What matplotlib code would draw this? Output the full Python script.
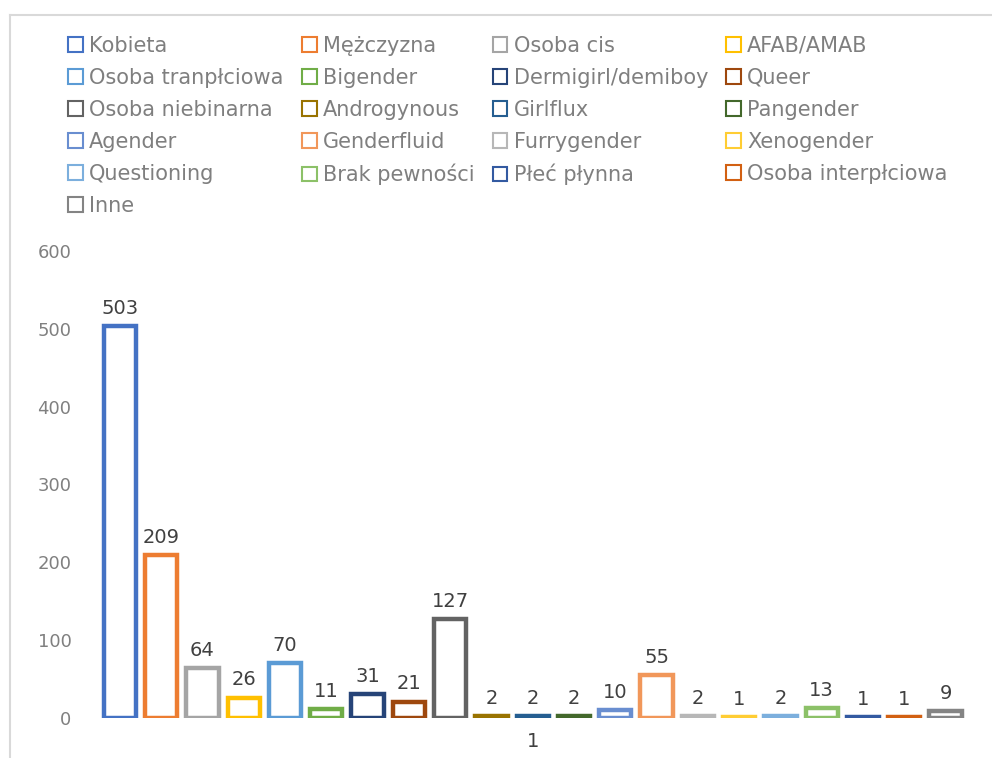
import matplotlib
matplotlib.use('Agg')
import matplotlib.pyplot as plt
from matplotlib.patches import Patch
from matplotlib.lines import Line2D
import numpy as np

categories = ["Kobieta", "Mężczyzna", "Osoba cis", "AFAB/AMAB",
              "Osoba tranpłciowa", "Bigender", "Dermigirl/demiboy", "Queer",
              "Osoba niebinarna", "Androgynous", "Girlflux", "Pangender",
              "Agender", "Genderfluid", "Furrygender", "Xenogender",
              "Questioning", "Brak pewności", "Płeć płynna", "Osoba interpłciowa",
              "Inne"]
values = [503, 209, 64, 26, 70, 11, 31, 21, 127, 2, 2, 2, 10, 55, 2, 1, 2, 13, 1, 1, 9]
colors = ["#4472C4", "#ED7D31", "#A5A5A5", "#FFC000", "#5B9BD5", "#70AD47",
          "#264478", "#9E480E", "#636363", "#997300", "#255E91", "#43682B",
          "#698ED0", "#F1975A", "#B7B7B7", "#FFCD33", "#7CAFDD", "#8CC168",
          "#335AA1", "#D26012", "#848484"]
# stray label drawn under the Girlflux bar in the original
stray_idx = 10
stray_text = "1"
yticks = [0, 100, 200, 300, 400, 500, 600]

plt.rcParams['font.family'] = ['DejaVu Sans']

fig = plt.figure(figsize=(9.92, 7.58), dpi=100)
ax = fig.add_axes([0.100, 0.0528, 0.874, 0.6161])

x = np.arange(len(values))
bars = ax.bar(x, values, width=0.78, color="white", edgecolor=colors, linewidth=3.2)

for xi, v in zip(x, values):
    ax.annotate(str(v), (xi, v), xytext=(0, 6), textcoords="offset points",
                ha="center", va="bottom", fontsize=14, color="#404040")
ax.annotate(stray_text, (stray_idx, 0), xytext=(0, -10), textcoords="offset points",
            ha="center", va="top", fontsize=14, color="#404040")

ax.set_xlim(-0.5, len(values) - 0.5)
ax.set_ylim(0, 600)
ax.set_yticks(yticks)
ax.set_xticks([])
ax.tick_params(axis="y", length=0, labelsize=13, labelcolor="#808080", pad=20)
for s in ax.spines.values():
    s.set_visible(False)

# legend filled row by row like the original (matplotlib fills column-major)
ncol = 4
handles = [Patch(facecolor="white", edgecolor=c, linewidth=1.5) for c in colors]
order = []
for c in range(ncol):
    order += list(range(c, len(categories), ncol))
leg = fig.legend([handles[i] for i in order], [categories[i] for i in order],
                 ncol=ncol, loc="upper left", bbox_to_anchor=(0.069, 0.953),
                 frameon=False, fontsize=15, handlelength=0.7, handleheight=0.7,
                 handletextpad=0.3, columnspacing=0.88, labelspacing=0.58,
                 borderpad=0, borderaxespad=0)
for t in leg.get_texts():
    t.set_color("#7f7f7f")

# chart frame (left and top edges visible in the crop)
fig.add_artist(Line2D([10 / 992, 10 / 992], [0, 1 - 15 / 758], transform=fig.transFigure,
                      color="#D9D9D9", linewidth=1.5))
fig.add_artist(Line2D([10 / 992, 1], [1 - 15 / 758, 1 - 15 / 758], transform=fig.transFigure,
                      color="#D9D9D9", linewidth=1.5))

fig.savefig("out.png", dpi=100, facecolor="white")
